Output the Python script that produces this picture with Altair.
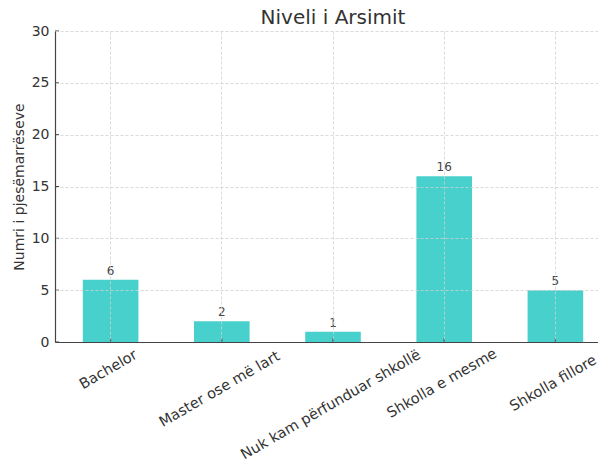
import altair as alt
import pandas as pd

categories = ["Bachelor", "Master ose më lart", "Nuk kam përfunduar shkollë",
              "Shkolla e mesme", "Shkolla fillore"]
counts = [6, 2, 1, 16, 5]
y_ticks = [0, 5, 10, 15, 20, 25, 30]

df = pd.DataFrame({"Niveli": categories, "Numri": counts})
tick_df = pd.DataFrame({"Numri": y_ticks})

W, H = 543, 311
FONT = "DejaVu Sans"
AXC = "#444444"
TXT = "#333333"

xscale = alt.Scale(domain=categories, range=[0, 556], paddingInner=0.5, paddingOuter=0.25)
yscale = alt.Scale(domain=[0, 30], nice=False, zero=True)

x_axis = alt.Axis(
    title=None, labelAngle=-30, labelAlign="center", labelBaseline="middle",
    labelPadding={"expr": "12 + length(datum.label) * 1.95"}, labelOffset=-2,
    ticks=False, tickSize=0, grid=True, gridColor="#d0d0d0", gridDash=[3, 2],
    gridWidth=0.8, domainColor=AXC, domainWidth=1.2, labelFont=FONT,
    labelFontSize=14.5, labelColor=TXT, labelOverlap=False, bandPosition=0.5,
    zindex=1, labelLimit=0,
)
y_axis = alt.Axis(
    title="Numri i pjesëmarrëseve", values=y_ticks, titleFont=FONT,
    titleFontSize=14, titleFontWeight="normal", titleColor=TXT, titlePadding=5,
    labelPadding=6, ticks=False, tickSize=0, grid=True, gridColor="#d0d0d0",
    gridDash=[3, 2], gridWidth=0.8, domainColor=AXC, domainWidth=1.2,
    labelFont=FONT, labelFontSize=14, labelColor=TXT, zindex=1,
)

X = alt.X("Niveli:N", sort=categories, scale=xscale, axis=x_axis)
Y = alt.Y("Numri:Q", scale=yscale, axis=y_axis)

bars = alt.Chart(df).mark_bar(color="#48D1CC").encode(x=X, y=Y)

labels = alt.Chart(df).mark_text(
    dy=-5, baseline="alphabetic", fontSize=12, font=FONT, color="#444444"
).encode(x=X, y=Y, text=alt.Text("Numri:Q"))

xticks = alt.Chart(df).mark_rule(color=AXC, strokeWidth=1).encode(
    x=X, y=alt.value(H), y2=alt.value(H - 4),
)

yticks = alt.Chart(tick_df).mark_rule(color=AXC, strokeWidth=1).encode(
    y=Y, x=alt.value(0), x2=alt.value(4),
)

chart = alt.layer(bars, labels, xticks, yticks).properties(
    width=W, height=H,
    title=alt.TitleParams("Niveli i Arsimit", font=FONT, fontSize=20,
                          fontWeight="normal", color=TXT, anchor="middle",
                          offset=8, dx=6.5, dy=11.5),
    autosize=alt.AutoSizeParams(type="none"),
    padding={"left": 47, "top": 23, "right": 0, "bottom": 119},
).configure_view(stroke=None)

chart.save("out.html", embed_options={"renderer": "svg", "actions": False})
